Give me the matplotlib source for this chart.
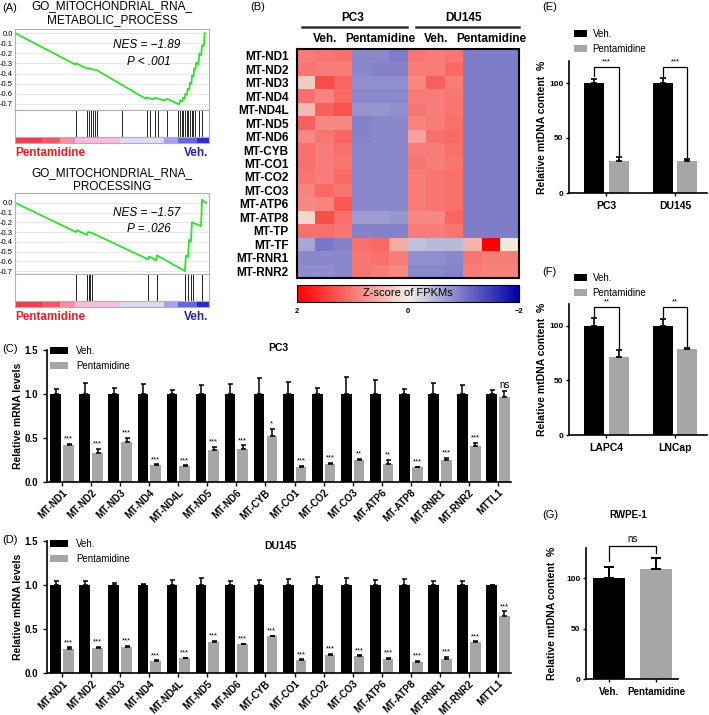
import numpy as np
import matplotlib
matplotlib.use("Agg")
import matplotlib.pyplot as plt
from matplotlib.colors import LinearSegmentedColormap, Normalize
from matplotlib.cm import ScalarMappable

plt.rcParams["font.family"] = ["Liberation Sans", "DejaVu Sans"]

W, H = 709, 715

# (A) GSEA running enrichment score, rank given as % of the ranked list
es_rank_metabolic = [0, 31, 31.5, 37, 37.5, 40, 42, 67.5, 68, 71, 72, 77, 78.5,
                     84.5, 85.2, 86.2, 86.6, 87.4, 87.8, 88.6, 89.0, 89.8, 90.2,
                     90.9, 91.3, 92.0, 92.4, 93.0, 93.4, 94.6, 95.0, 96.0, 96.4,
                     97.3, 97.8]
es_metabolic = [0, -0.31, -0.30, -0.35, -0.345, -0.36, -0.365, -0.65, -0.635, -0.655, -0.64, -0.665, -0.65,
                -0.705, -0.665, -0.675, -0.64, -0.65, -0.60, -0.61, -0.55, -0.56, -0.49,
                -0.50, -0.42, -0.43, -0.35, -0.36, -0.29, -0.31, -0.20, -0.22, -0.12,
                -0.13, 0.0]
hits_metabolic = [31.4, 37.1, 38.1, 39.2, 40.2, 41.2, 42.3, 55.2, 68.0, 69.6, 72.2, 73.7,
                  78.4, 84.0, 85.1, 86.1, 86.6, 87.6, 88.7, 89.2, 90.2, 91.2, 91.8,
                  92.8, 94.8, 96.4]

es_rank_processing = [0, 31.4, 31.8, 37.1, 37.6, 39.7, 68.6, 69.1, 72.7, 73.2, 87.6,
                      88.1, 89.2, 89.7, 90.7, 91.2, 95.9, 96.4, 98.5]
es_processing = [0, -0.30, -0.28, -0.33, -0.30, -0.31, -0.58, -0.55, -0.59, -0.54, -0.70,
                 -0.54, -0.555, -0.38, -0.40, -0.20, -0.24, 0.03, 0.0]
hits_processing = [31.4, 37.1, 38.1, 38.7, 39.7, 68.6, 73.2, 87.6, 89.2, 90.7, 91.8, 96.4]

es_ticks = [0.0, -0.1, -0.2, -0.3, -0.4, -0.5, -0.6, -0.7]
es_tick_labels = ["0.0", "-0.1", "-0.2", "-0.3", "-0.4", "-0.5", "-0.6", "-0.7"]
strip_edges = [0, 14, 23, 31, 54, 77, 84, 94, 100]
strip_colors = ["#e8414e", "#ec5a66", "#f2909e", "#f6bede", "#dcdaf5", "#a2a4ee", "#6466dc", "#2a2ac6"]

# (B) heatmap z-scores: PC3 Veh x3, PC3 Pent x3, DU145 Veh x3, DU145 Pent x3
hm_genes = ["MT-ND1", "MT-ND2", "MT-ND3", "MT-ND4", "MT-ND4L", "MT-ND5", "MT-ND6", "MT-CYB",
            "MT-CO1", "MT-CO2", "MT-CO3", "MT-ATP6", "MT-ATP8", "MT-TP", "MT-TF", "MT-RNR1", "MT-RNR2"]
z_scores = [
    [0.95, 1.0, 1.05, -0.85, -0.85, -0.95, 1.0, 0.95, 1.0, -0.95, -0.95, -0.95],
    [1.0, 0.95, 0.95, -0.85, -0.9, -0.9, 0.95, 0.95, 1.1, -0.95, -0.95, -0.95],
    [0.3, 1.35, 1.15, -0.8, -0.8, -0.8, 0.85, 1.2, 0.95, -0.95, -0.95, -0.95],
    [1.05, 0.9, 1.1, -0.85, -0.85, -0.85, 0.95, 0.95, 1.0, -0.95, -0.95, -0.95],
    [0.45, 1.2, 1.3, -0.75, -0.75, -0.8, 1.0, 0.95, 1.0, -0.95, -0.95, -0.95],
    [1.2, 0.85, 0.85, -0.9, -0.85, -0.85, 0.9, 0.95, 1.05, -0.95, -0.95, -0.95],
    [0.85, 1.0, 1.15, -0.9, -0.85, -0.85, 0.65, 1.05, 1.1, -0.95, -0.95, -0.95],
    [1.05, 0.95, 1.05, -0.85, -0.85, -0.85, 0.95, 0.95, 1.05, -0.95, -0.95, -0.95],
    [1.05, 0.95, 1.0, -0.85, -0.85, -0.85, 1.0, 0.95, 1.0, -0.95, -0.95, -0.95],
    [1.0, 0.95, 1.1, -0.85, -0.85, -0.85, 0.95, 1.0, 1.05, -0.95, -0.95, -0.95],
    [0.9, 1.1, 1.0, -0.85, -0.85, -0.85, 0.95, 1.0, 1.05, -0.95, -0.95, -0.95],
    [0.85, 0.9, 1.25, -0.85, -0.85, -0.85, 0.95, 1.0, 1.05, -0.95, -0.95, -0.95],
    [0.2, 1.35, 1.05, -0.7, -0.7, -0.75, 0.85, 0.85, 1.15, -0.95, -0.95, -0.95],
    [1.05, 1.05, 1.0, -0.9, -0.9, -0.9, 0.95, 0.95, 1.0, -0.95, -0.95, -0.95],
    [-0.6, -1.0, -0.9, 1.05, 1.1, 0.55, -0.4, -0.45, -0.45, 0.5, 2.0, 0.05],
    [-0.85, -0.85, -0.85, 1.0, 1.05, 0.95, -0.8, -0.8, -0.85, 1.0, 0.95, 0.95],
    [-0.8, -0.8, -0.85, 1.0, 0.95, 0.85, -0.85, -0.85, -0.9, 0.95, 0.9, 0.9],
]
hm_cols = ["Veh.", "Pentamidine", "Veh.", "Pentamidine"]
hm_lines = ["PC3", "DU145"]

# (C)/(D) qPCR
qpcr_genes = ["MT-ND1", "MT-ND2", "MT-ND3", "MT-ND4", "MT-ND4L", "MT-ND5", "MT-ND6", "MT-CYB",
              "MT-CO1", "MT-CO2", "MT-CO3", "MT-ATP6", "MT-ATP8", "MT-RNR1", "MT-RNR2", "MTTL1"]
veh_mean = [1.0, 1.0, 1.0, 1.0, 1.0, 1.0, 1.0, 1.0, 1.0, 1.0, 1.0, 1.0, 1.0, 1.0, 1.0, 1.0]
pc3_veh_err = [0.06, 0.12, 0.07, 0.11, 0.04, 0.10, 0.11, 0.18, 0.14, 0.07, 0.19, 0.16, 0.06, 0.13, 0.10, 0.04]
pc3_pen = [0.415, 0.335, 0.455, 0.19, 0.18, 0.36, 0.37, 0.52, 0.165, 0.21, 0.25, 0.21, 0.165, 0.25, 0.41, 0.97]
pc3_pen_err = [0.02, 0.04, 0.05, 0.01, 0.01, 0.04, 0.045, 0.08, 0.015, 0.01, 0.015, 0.04, 0.01, 0.025, 0.035, 0.06]
pc3_sig = ["***", "***", "***", "***", "***", "***", "***", "*", "***", "***", "**", "**", "***", "***", "***", "ns"]
du_veh_err = [0.05, 0.05, 0.02, 0.01, 0.06, 0.08, 0.05, 0.06, 0.07, 0.09, 0.08, 0.06, 0.07, 0.04, 0.05, 0.005]
du_pen = [0.275, 0.285, 0.30, 0.135, 0.165, 0.355, 0.325, 0.415, 0.145, 0.21, 0.19, 0.16, 0.13, 0.155, 0.35, 0.65]
du_pen_err = [0.015, 0.012, 0.01, 0.01, 0.01, 0.01, 0.01, 0.01, 0.01, 0.01, 0.012, 0.01, 0.01, 0.03, 0.01, 0.05]
du_sig = ["***"] * 16

# (E)/(F)/(G) mtDNA content
e_cells = ["PC3", "DU145"]
e_veh, e_veh_err = [100, 100], [4, 4.5]
e_pen, e_pen_err = [29, 29.5], [3.5, 1]
e_sig = ["***", "***"]
f_cells = ["LAPC4", "LNCap"]
f_veh, f_veh_err = [100, 100], [7, 6.5]
f_pen, f_pen_err = [71, 78.5], [6.5, 1]
f_sig = ["**", "**"]
g_groups = ["Veh.", "Pentamidine"]
g_mean, g_err = [100, 109], [11, 11]

GRAY = "#a6a6a6"
fig = plt.figure(figsize=(W / 100, H / 100), dpi=100)


def px_axes(l, t, r, b):
    return fig.add_axes([l / W, 1 - b / H, (r - l) / W, (b - t) / H])


def ftext(x, y, s, **kw):
    fig.text(x / W, 1 - y / H, s, **kw)


# ---------- (A) ----------
def draw_gsea(top, ylim, title_y, title, rank, es, hits, nes, pval, nes_y):
    bot = top + 81
    ax = px_axes(15, top, 209, bot)
    for t in es_ticks:
        ax.axhline(t, color="#e4e4e4", lw=0.6, zorder=0)
    ax.plot(rank, es, color="#2fe02f", lw=1.3)
    ax.set_xlim(0, 100)
    ax.set_ylim(*ylim)
    ax.set_xticks([])
    ax.set_yticks(es_ticks)
    ax.set_yticklabels(es_tick_labels, fontsize=5.5)
    ax.tick_params(axis="y", length=0, pad=1.5)
    ax.text(68, nes_y[0], nes, style="italic", fontsize=8.5, ha="center", va="center")
    ax.text(69, nes_y[1], pval, style="italic", fontsize=8.5, ha="center", va="center")

    hx = px_axes(15, bot, 209, bot + 27)
    hx.vlines(hits, 0, 1, color="black", lw=0.6)
    hx.set_xlim(0, 100)
    hx.set_ylim(0, 1)
    hx.set_xticks([])
    hx.set_yticks([])

    sx = px_axes(15, bot + 27, 209, bot + 33)
    sx.broken_barh([(strip_edges[i], strip_edges[i + 1] - strip_edges[i]) for i in range(len(strip_colors))],
                   (0, 1), facecolors=strip_colors)
    sx.set_xlim(0, 100)
    sx.set_ylim(0, 1)
    sx.set_xticks([])
    sx.set_yticks([])
    for a in (ax, hx, sx):
        for s in a.spines.values():
            s.set_color("#b0b0b0")
            s.set_linewidth(0.8)

    ftext(112, title_y, title, ha="center", va="center", fontsize=8.5, linespacing=1.15)
    ftext(15, bot + 43, "Pentamidine", color="#e3222c", fontweight="bold", fontsize=8.5, va="center")
    ftext(208, bot + 43, "Veh.", color="#262696", fontweight="bold", fontsize=8.5, va="center", ha="right")


ftext(2, 8, "(A)", fontsize=8, va="center")
draw_gsea(29, (-0.76, 0.04), 13, "GO_MITOCHONDRIAL_RNA_\nMETABOLIC_PROCESS",
          es_rank_metabolic, es_metabolic, hits_metabolic, "NES = \u22121.89", "P < .001", (-0.12, -0.29))
draw_gsea(193, (-0.73, 0.10), 180, "GO_MITOCHONDRIAL_RNA_\nPROCESSING",
          es_rank_processing, es_processing, hits_processing, "NES = \u22121.57", "P = .026", (-0.10, -0.27))

# ---------- (B) ----------
ftext(250, 7, "(B)", fontsize=8, va="center")
hm_cmap = LinearSegmentedColormap.from_list("z", ["#0000a8", "#f2efe6", "#ff0000"])
hm_top, hm_bot = 49, 278
n_rows, n_cols = len(hm_genes), len(z_scores[0])
ax = px_axes(297, hm_top, 519, hm_bot)
ax.imshow(np.array(z_scores), cmap=hm_cmap, vmin=-2, vmax=2, aspect="auto", interpolation="nearest")
ax.set_xticks([])
ax.set_yticks(range(n_rows))
ax.set_yticklabels(hm_genes, fontsize=8.5, fontweight="bold")
ax.tick_params(axis="y", length=0, pad=6)
for s in ax.spines.values():
    s.set_linewidth(1.5)
row_px = (hm_bot - hm_top) / n_rows


def row_at(ypx):
    return -0.5 - (hm_top - ypx) / row_px


for c, lab in zip([1, 4, 7, 10], hm_cols):
    ax.text(c, row_at(39), lab, ha="center", va="center", fontsize=8.5, fontweight="bold")
for c, lab in zip([2.5, 8.5], hm_lines):
    ax.text(c, row_at(18), lab, ha="center", va="center", fontsize=8.5, fontweight="bold")
ax.plot([-0.23, 5.45], [row_at(27)] * 2, color="#333333", lw=1.8, clip_on=False)
ax.plot([5.93, 11.5], [row_at(27)] * 2, color="#333333", lw=1.8, clip_on=False)
ax.set_xlim(-0.5, n_cols - 0.5)
ax.set_ylim(n_rows - 0.5, -0.5)

cax = px_axes(297, 285, 519, 302)
cb = fig.colorbar(ScalarMappable(Normalize(-2, 2), hm_cmap), cax=cax, orientation="horizontal")
cax.invert_xaxis()
cb.set_ticks([2, 0, -2])
cb.set_ticklabels(["2", "0", "\u22122"])
cax.tick_params(labelsize=5.5, length=0, pad=4)
for t in cax.get_xticklabels():
    t.set_fontweight("bold")
cb.outline.set_linewidth(0.8)
cax.text(0.5, 0.5, "Z-score of FPKMs", transform=cax.transAxes, ha="center", va="center", fontsize=8)

# ---------- (C) / (D) ----------
err_kw = dict(elinewidth=1.1, capsize=1.8, capthick=1.1, ecolor="black")


def draw_mrna(top, bot, veh_err, pen, pen_err, sig, title, title_xy, legend_y):
    ax = px_axes(47, top, 511, bot)
    x = np.arange(len(qpcr_genes))
    zeros = np.zeros(len(x))
    ax.bar(x - 0.22, veh_mean, 0.37, color="black", yerr=[zeros, veh_err], error_kw=err_kw, label="Veh.")
    ax.bar(x + 0.22, pen, 0.37, color=GRAY, yerr=[zeros, pen_err], error_kw=err_kw, label="Pentamidine")
    for i in x:
        fs = 7 if sig[i] == "ns" else 5.5
        ax.text(i + 0.22, pen[i] + pen_err[i] + 0.015, sig[i], ha="center", va="bottom", fontsize=fs)
    ax.set_xlim(-0.52, 15.45)
    ax.set_ylim(0, 1.5)
    ax.set_yticks([0, 0.5, 1.0, 1.5])
    ax.set_yticklabels(["0.0", "0.5", "1.0", "1.5"], fontsize=7, fontweight="bold")
    ax.set_xticks(x)
    ax.set_xticklabels(qpcr_genes, rotation=45, ha="right", rotation_mode="anchor",
                       fontsize=7, fontweight="bold")
    ax.tick_params(length=3, width=1)
    ax.tick_params(axis="x", pad=1)
    for s in ("top", "right"):
        ax.spines[s].set_visible(False)
    for s in ("left", "bottom"):
        ax.spines[s].set_linewidth(1.2)
    ax.set_ylabel("Relative mRNA levels", fontsize=7.5, fontweight="bold")
    ax.yaxis.set_label_coords((23 - 47) / 464, 0.5)
    ax.legend(loc="upper left", bbox_to_anchor=(50 / W, 1 - legend_y / H), bbox_transform=fig.transFigure,
              frameon=False, fontsize=7, handlelength=1.9, handleheight=0.7, labelspacing=0.5,
              handletextpad=0.8, borderpad=0, borderaxespad=0)
    ftext(title_xy[0], title_xy[1], title, fontsize=7.5, fontweight="bold", ha="center", va="center")


ftext(2, 349, "(C)", fontsize=8, va="center")
draw_mrna(350, 482, pc3_veh_err, pc3_pen, pc3_pen_err, pc3_sig, "PC3", (278, 348), 346)
ftext(2, 540, "(D)", fontsize=8, va="center")
draw_mrna(541, 673, du_veh_err, du_pen, du_pen_err, du_sig, "DU145", (280, 546), 539)


# ---------- (E) / (F) / (G) ----------
def style_mtdna(ax, label_right, left, width):
    for s in ("top", "right"):
        ax.spines[s].set_visible(False)
    for s in ("left", "bottom"):
        ax.spines[s].set_linewidth(1.2)
    ax.set_yticks([0, 50, 100])
    ax.set_yticklabels(["0", "50", "100"], fontsize=6, fontweight="bold")
    ax.tick_params(length=2.5, width=1)
    ax.tick_params(axis="y", pad=1.5)
    ax.set_ylabel("Relative mtDNA content  %", fontsize=7.5, fontweight="bold")
    ax.yaxis.set_label_coords((label_right - left) / width, 0.5)


def draw_mtdna(top, bot, cells, veh, veh_e, pen, pen_e, sig, bracket_y, legend_y):
    ax = px_axes(569, top, 707, bot)
    x = np.arange(len(cells))
    zeros = np.zeros(len(x))
    kw = dict(elinewidth=1.2, capsize=2.5, capthick=1.2, ecolor="black")
    ax.bar(x - 0.18, veh, 0.29, color="black", yerr=[zeros, veh_e], error_kw=kw, label="Veh.")
    ax.bar(x + 0.18, pen, 0.29, color=GRAY, yerr=[zeros, pen_e], error_kw=kw, label="Pentamidine")
    for i in x:
        ax.plot([i - 0.18, i - 0.18, i + 0.18, i + 0.18],
                [veh[i] + veh_e[i] + 2, bracket_y, bracket_y, pen[i] + pen_e[i] + 2],
                color="black", lw=0.9, clip_on=False)
        ax.text(i, bracket_y + 1.5, sig[i], ha="center", va="bottom", fontsize=5.5)
    ax.set_xlim(-0.547, 1.467)
    ax.set_ylim(0, 120)
    ax.set_xticks(x)
    ax.set_xticklabels(cells, fontsize=7.5, fontweight="bold")
    style_mtdna(ax, 547, 569, 138)
    ax.legend(loc="upper left", bbox_to_anchor=(574 / W, 1 - legend_y / H), bbox_transform=fig.transFigure,
              frameon=False, fontsize=7, handlelength=1.3, handleheight=0.6, labelspacing=0.5,
              handletextpad=0.6, borderpad=0, borderaxespad=0)


ftext(542, 7, "(E)", fontsize=8, va="center")
draw_mtdna(61, 193, e_cells, e_veh, e_veh_err, e_pen, e_pen_err, e_sig, 114.5, 29)
ftext(542, 272, "(F)", fontsize=8, va="center")
draw_mtdna(304, 435, f_cells, f_veh, f_veh_err, f_pen, f_pen_err, f_sig, 117, 273)

ftext(542, 515, "(G)", fontsize=8, va="center")
ftext(628, 515, "RWPE-1", fontsize=7, fontweight="bold", ha="center", va="center")
ax = px_axes(586, 548, 678, 679)
xg = np.arange(len(g_groups))
ax.bar(xg, g_mean, 0.7, color=["black", GRAY],
       yerr=[np.zeros(len(xg)), g_err], error_kw=dict(elinewidth=1.4, capsize=3.5, capthick=1.4, ecolor="black"))
ax.plot([0, 0, 1, 1], [g_mean[0] + g_err[0] + 6, 132, 132, g_mean[1] + g_err[1] + 5],
        color="black", lw=0.9, clip_on=False)
ax.text(0.5, 134, "ns", ha="center", va="bottom", fontsize=7)
ax.set_xlim(-0.49, 1.47)
ax.set_ylim(0, 130)
ax.set_xticks(xg)
ax.set_xticklabels(g_groups, fontsize=7, fontweight="bold")
style_mtdna(ax, 557, 586, 92)

fig.savefig("out.png", dpi=100)
